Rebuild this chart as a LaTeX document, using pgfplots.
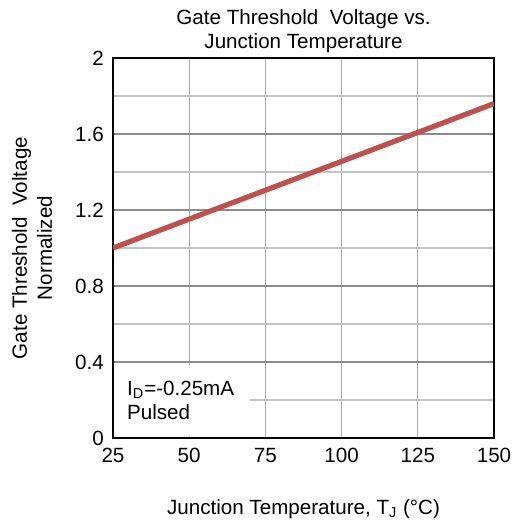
\documentclass[border=0pt]{standalone}
\usepackage{pgfplots}
\pgfplotsset{compat=1.18}
\usepackage{fontspec}
\setmainfont{Liberation Sans}
\definecolor{linered}{RGB}{192,80,77}
\begin{document}
\fontsize{10.3}{12.4}\selectfont
\begin{tikzpicture}
\useasboundingbox (-56.5pt,-43pt) rectangle (199.5pt,219pt);
\begin{axis}[
  at={(0,0)}, anchor=south west,
  scale only axis, width=190.5pt, height=190pt,
  xmin=25, xmax=150, ymin=0, ymax=2,
  xtick={25,50,...,150},
  ytick={0,0.4,0.8,1.2,1.6,2},
  yticklabels={0,0.4,0.8,1.2,1.6,2},
  minor ytick={0.2,0.6,1.0,1.4,1.8},
  grid=both,
  major grid style={draw={rgb,255:red,140;green,140;blue,140}, line width=0.8pt},
  minor grid style={draw={rgb,255:red,195;green,195;blue,195}, line width=0.8pt},
  x grid style={draw={rgb,255:red,170;green,170;blue,170}, line width=0.6pt},
  axis line style={black, line width=0.8pt},
  tick style={draw=none},
  /pgf/number format/assume math mode=true,
  ticklabel style={font=\fontsize{10.3}{12.4}\selectfont},
  xticklabel style={yshift=-1.5pt},
  yticklabel style={xshift=-1pt},
  title={Gate Threshold\ \ Voltage vs.\\Junction Temperature},
  title style={align=center, font=\fontsize{10.3}{12.2}\selectfont, yshift=-7pt},
  xlabel={Junction Temperature, T\textsubscript{J} (°C)},
  xlabel style={font=\fontsize{10.3}{12.4}\selectfont, yshift=-11.5pt},
  ylabel={Gate Threshold\ \ Voltage\\Normalized},
  ylabel style={align=center, font=\fontsize{10.3}{12.5}\selectfont, yshift=4.5pt},
]
\addplot[linered, line width=2.6pt] coordinates {(25,1.0) (150,1.76)};
\fill[white] (axis cs:25.3,0.012) rectangle (axis cs:70,0.385);
\node[anchor=west, align=left, inner sep=0pt, font=\fontsize{10.3}{12}\selectfont] at (axis cs:29.5,0.2) {I\textsubscript{D}=-0.25mA\\Pulsed};
\end{axis}
\end{tikzpicture}
\end{document}
